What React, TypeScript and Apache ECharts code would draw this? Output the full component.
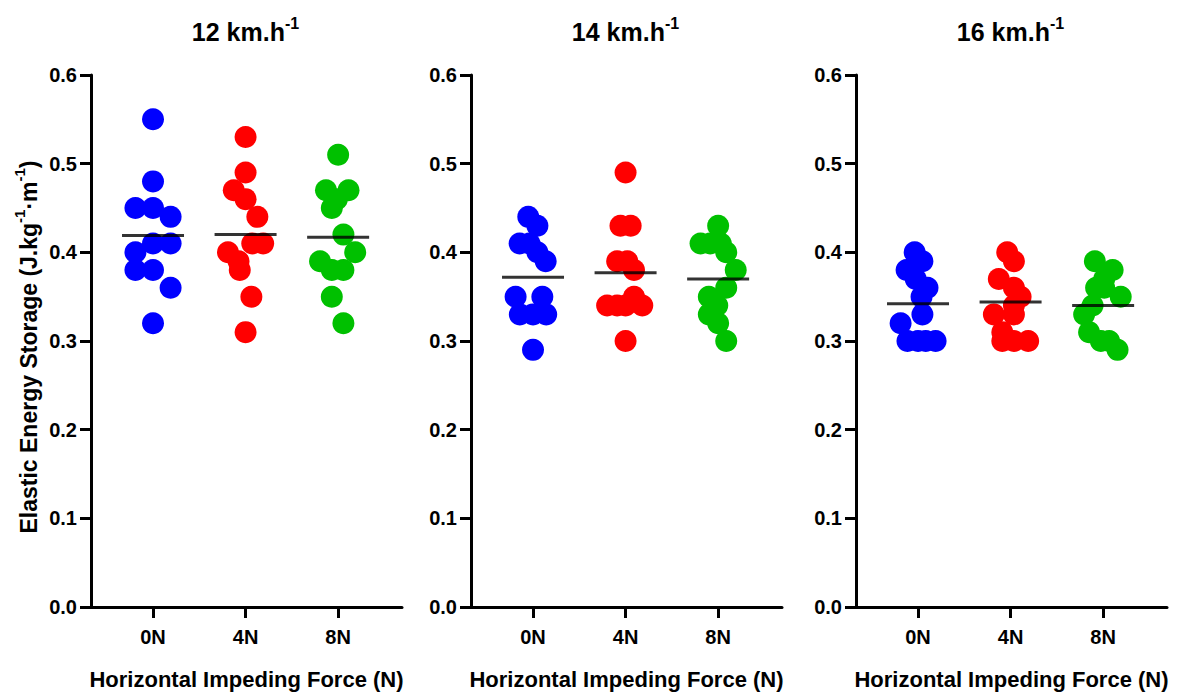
import React, { useEffect, useRef } from 'react';
import * as echarts from 'echarts';

// ---- Data ----
const categories = ['0N', '4N', '8N'];
const speeds = ['12', '14', '16'];
const yTicks = [0, 0.1, 0.2, 0.3, 0.4, 0.5, 0.6];

// 12 km/h
const v12_0N = [0.55, 0.48, 0.45, 0.45, 0.44, 0.41, 0.41, 0.40, 0.38, 0.38, 0.36, 0.32];
const j12_0N = [0, 0, -1, 0, 1, 0, 1, -1, -1, 0, 1, 0];
const v12_4N = [0.53, 0.49, 0.47, 0.46, 0.44, 0.41, 0.41, 0.40, 0.39, 0.38, 0.35, 0.31];
const j12_4N = [0, 0, -0.67, 0, 0.67, 0.38, 1, -1, -0.4, -0.33, 0.33, 0];
const v12_8N = [0.51, 0.47, 0.47, 0.46, 0.45, 0.42, 0.40, 0.39, 0.38, 0.38, 0.35, 0.32];
const j12_8N = [0, -0.69, 0.59, -0.07, -0.36, 0.3, 0.97, -1.03, -0.36, 0.3, -0.36, 0.3];
const m12 = [0.419, 0.420, 0.417];

// 14 km/h
const v14_0N = [0.44, 0.43, 0.41, 0.41, 0.40, 0.39, 0.35, 0.35, 0.33, 0.33, 0.33, 0.29];
const j14_0N = [-0.27, 0.25, -0.76, -0.2, 0.25, 0.72, -0.99, 0.53, -0.75, 0, 0.75, 0];
const v14_4N = [0.49, 0.43, 0.43, 0.39, 0.39, 0.38, 0.35, 0.34, 0.34, 0.34, 0.34, 0.30];
const j14_4N = [0, -0.29, 0.29, -0.48, 0.1, 0.48, 0.48, -1.05, -0.48, 0, 0.95, 0];
const v14_8N = [0.43, 0.41, 0.41, 0.41, 0.40, 0.38, 0.36, 0.35, 0.34, 0.33, 0.32, 0.30];
const j14_8N = [0, -1.0, -0.45, 0.15, 0.46, 1.0, 0.46, -0.53, -0.05, -0.53, 0, 0.46];
const m14 = [0.372, 0.377, 0.370];

// 16 km/h
const v16_0N = [0.40, 0.39, 0.38, 0.37, 0.36, 0.35, 0.33, 0.32, 0.30, 0.30, 0.30, 0.30];
const j16_0N = [-0.19, 0.25, -0.65, -0.13, 0.54, 0.2, 0.25, -0.99, -0.6, 0, 0.44, 1.0];
const v16_4N = [0.40, 0.39, 0.37, 0.36, 0.35, 0.34, 0.33, 0.33, 0.31, 0.30, 0.30, 0.30];
const j16_4N = [-0.19, 0.19, -0.67, 0.19, 0.57, 0.19, -0.95, 0.19, -0.47, -0.47, 0.19, 1.0];
const v16_8N = [0.39, 0.38, 0.37, 0.36, 0.36, 0.35, 0.34, 0.33, 0.31, 0.30, 0.30, 0.29];
const j16_8N = [-0.47, 0.54, 0.06, 0.06, -0.4, 1.0, -0.6, -1.08, -0.8, -0.13, 0.34, 0.82];
const m16 = [0.342, 0.344, 0.340];

const panels = [
  { speed: speeds[0], values: [v12_0N, v12_4N, v12_8N], jitter: [j12_0N, j12_4N, j12_8N], means: m12 },
  { speed: speeds[1], values: [v14_0N, v14_4N, v14_8N], jitter: [j14_0N, j14_4N, j14_8N], means: m14 },
  { speed: speeds[2], values: [v16_0N, v16_4N, v16_8N], jitter: [j16_0N, j16_4N, j16_8N], means: m16 },
];

// ---- Styles / layout ----
const COLORS = ['#0000FF', '#FF0000', '#00C000'];
const JITTER_STEP = 0.19;
const GRID_LEFTS = [91, 471, 856];
const GRID_W = 311;
const GRID_TOP = 75;
const GRID_BOTTOM = 84;
const FONT = '"Liberation Sans", Arial, Helvetica, sans-serif';

export default function App() {
  const ref = useRef<HTMLDivElement>(null);

  useEffect(() => {
    if (!ref.current) return;
    const chart = echarts.init(ref.current, null, { renderer: 'svg' });

    const grid = panels.map((_, i) => ({
      left: GRID_LEFTS[i],
      width: GRID_W,
      top: GRID_TOP,
      bottom: GRID_BOTTOM,
      containLabel: false,
    }));

    const axisLineStyle = { color: '#000', width: 3 };
    const labelStyle = { color: '#000', fontSize: 20, fontWeight: 'bold' as const, fontFamily: FONT };

    const xAxis = panels.map((_, i) => ({
      type: 'value',
      gridIndex: i,
      min: -0.67,
      max: 2.69,
      splitLine: { show: false },
      axisLine: { show: true, onZero: false, lineStyle: axisLineStyle },
      axisTick: { show: true, customValues: [0, 1, 2], length: 11, lineStyle: axisLineStyle },
      axisLabel: {
        customValues: [0, 1, 2],
        formatter: (v: number) => categories[Math.round(v)] ?? '',
        margin: 20,
        ...labelStyle,
      },
      name: 'Horizontal Impeding Force (N)',
      nameLocation: 'middle',
      nameGap: 61,
      nameTextStyle: { color: '#000', fontSize: 22, fontWeight: 'bold', fontFamily: FONT },
    }));

    const yAxis = panels.map((_, i) => ({
      type: 'value',
      gridIndex: i,
      min: yTicks[0],
      max: yTicks[yTicks.length - 1],
      interval: 0.1,
      splitLine: { show: false },
      axisLine: { show: true, onZero: false, lineStyle: axisLineStyle },
      axisTick: { show: true, length: 11, lineStyle: axisLineStyle },
      axisLabel: {
        formatter: (v: number) => v.toFixed(1),
        margin: 14,
        ...labelStyle,
      },
      ...(i === 0
        ? {
            name: '{a|Elastic Energy Storage (J.kg}{s|-1}{a|·m}{s|-1}{a|)}',
            nameLocation: 'middle',
            nameRotate: 90,
            nameGap: 51,
            nameTextStyle: {
              padding: [0, 12, 0, 0],
              rich: {
                a: { fontSize: 23, fontWeight: 'bold', fontFamily: FONT, color: '#000', lineHeight: 28, verticalAlign: 'bottom' },
                s: { fontSize: 15, fontWeight: 'bold', fontFamily: FONT, color: '#000', lineHeight: 28, verticalAlign: 'top' },
              },
            },
          }
        : {}),
    }));

    const series: any[] = [];
    panels.forEach((p, i) => {
      p.values.forEach((vals, g) => {
        series.push({
          type: 'scatter',
          xAxisIndex: i,
          yAxisIndex: i,
          symbol: 'circle',
          symbolSize: 22,
          itemStyle: { color: COLORS[g], opacity: 1 },
          data: vals.map((v, k) => [g + p.jitter[g][k] * JITTER_STEP, v]),
          z: 2,
          silent: true,
        });
      });
      series.push({
        type: 'scatter',
        xAxisIndex: i,
        yAxisIndex: i,
        symbol: 'rect',
        symbolSize: [62, 3],
        itemStyle: { color: '#000' },
        data: p.means.map((m, g) => [g, m]),
        z: 5,
        silent: true,
      });
    });

    const title = panels.map((p, i) => ({
      text: `{a|${p.speed} km.h}{s|-1}`,
      left: GRID_LEFTS[i] + GRID_W / 2 - 1,
      top: 15,
      padding: 0,
      textAlign: 'center',
      textStyle: {
        rich: {
          a: { fontSize: 25, fontWeight: 'bold', fontFamily: FONT, color: '#000', lineHeight: 29, verticalAlign: 'bottom' },
          s: { fontSize: 16, fontWeight: 'bold', fontFamily: FONT, color: '#000', lineHeight: 29, verticalAlign: 'top' },
        },
      },
    }));

    chart.setOption({
      animation: false,
      backgroundColor: '#fff',
      title,
      grid,
      xAxis,
      yAxis,
      series,
    });

    return () => chart.dispose();
  }, []);

  return (
    <div
      ref={ref}
      style={{ position: 'absolute', left: 0, top: 0, width: 1178, height: 695 }}
    />
  );
}
